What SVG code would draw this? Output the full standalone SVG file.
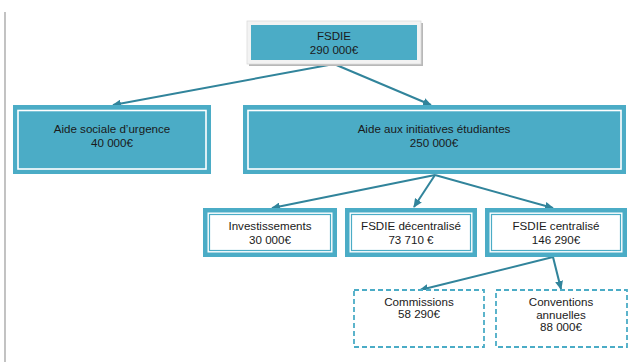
<svg xmlns="http://www.w3.org/2000/svg" width="636" height="362" viewBox="0 0 636 362">
<defs>
<marker id="ah" markerUnits="userSpaceOnUse" markerWidth="9" markerHeight="8" refX="8" refY="4" orient="auto">
<path d="M0,0 L9,4 L0,8 z" fill="#31849B"/>
</marker>
<style>
.t{font-family:"Liberation Sans",Arial,sans-serif;font-size:11.6px;fill:#1a1a1a;text-anchor:middle}
.teal{fill:#4BACC6}
.wl{fill:none;stroke:#ffffff;stroke-width:1.6}
.tl{fill:none;stroke:#4BACC6;stroke-width:1.2}
.dash{fill:#ffffff;stroke:#4BACC6;stroke-width:1.8;stroke-dasharray:5,3}
.c{stroke:#31849B;stroke-width:2;fill:none;marker-end:url(#ah)}
</style>
</defs>
<rect width="636" height="362" fill="#ffffff"/>
<line x1="5" y1="12" x2="5" y2="362" stroke="#9a9a9a" stroke-width="1.2"/>

<g id="connectors">
<line class="c" x1="334" y1="64" x2="113" y2="105"/>
<line class="c" x1="334" y1="64" x2="431" y2="105"/>
<line class="c" x1="435" y1="175" x2="272" y2="208"/>
<line class="c" x1="435" y1="175" x2="414" y2="207"/>
<line class="c" x1="435" y1="175" x2="553" y2="208"/>
<line class="c" x1="553" y1="257" x2="420" y2="290"/>
<line class="c" x1="553" y1="257" x2="561" y2="289"/>
</g>

<g id="fsdie">
<rect x="249" y="23" width="174" height="43" fill="#b8b8b8"/>
<rect x="247" y="21" width="174" height="43" fill="#f3f3f3" stroke="#dcdcdc" stroke-width="0.8"/>
<rect x="251" y="25" width="166" height="35" class="teal"/>
<text class="t" x="334" y="40">FSDIE</text>
<text class="t" x="334" y="54">290 000€</text>
</g>

<g id="aide-sociale">
<rect x="13" y="105" width="198" height="69" class="teal"/>
<rect x="18" y="110.5" width="188" height="58.5" class="wl"/>
<text class="t" x="112" y="133">Aide sociale d’urgence</text>
<text class="t" x="112" y="147">40 000€</text>
</g>

<g id="aide-initiatives">
<rect x="243" y="105" width="383" height="69" class="teal"/>
<rect x="248" y="110.5" width="373" height="58.5" class="wl"/>
<text class="t" x="434" y="133">Aide aux initiatives étudiantes</text>
<text class="t" x="434" y="147">250 000€</text>
</g>

<g id="investissements">
<rect x="203" y="208" width="134" height="49" class="teal"/>
<rect x="207.5" y="212.5" width="125" height="40" fill="#ffffff"/>
<rect x="209.5" y="214.5" width="121" height="36" class="tl"/>
<text class="t" x="270" y="230">Investissements</text>
<text class="t" x="270" y="244">30 000€</text>
</g>

<g id="fsdie-decentralise">
<rect x="345" y="208" width="132" height="49" class="teal"/>
<rect x="349.5" y="212.5" width="123" height="40" fill="#ffffff"/>
<rect x="351.5" y="214.5" width="119" height="36" class="tl"/>
<text class="t" x="411" y="230">FSDIE décentralisé</text>
<text class="t" x="411" y="244">73 710 €</text>
</g>

<g id="fsdie-centralise">
<rect x="485" y="208" width="142" height="49" class="teal"/>
<rect x="489.5" y="212.5" width="133" height="40" fill="#ffffff"/>
<rect x="491.5" y="214.5" width="129" height="36" class="tl"/>
<text class="t" x="556" y="230">FSDIE centralisé</text>
<text class="t" x="556" y="244">146 290€</text>
</g>

<g id="commissions">
<rect x="354" y="290" width="130" height="57" class="dash"/>
<text class="t" x="419" y="306">Commissions</text>
<text class="t" x="419" y="318">58 290€</text>
</g>

<g id="conventions">
<rect x="496" y="290" width="131" height="57" class="dash"/>
<text class="t" x="561" y="306">Conventions</text>
<text class="t" x="561" y="319">annuelles</text>
<text class="t" x="561" y="331">88 000€</text>
</g>
</svg>
